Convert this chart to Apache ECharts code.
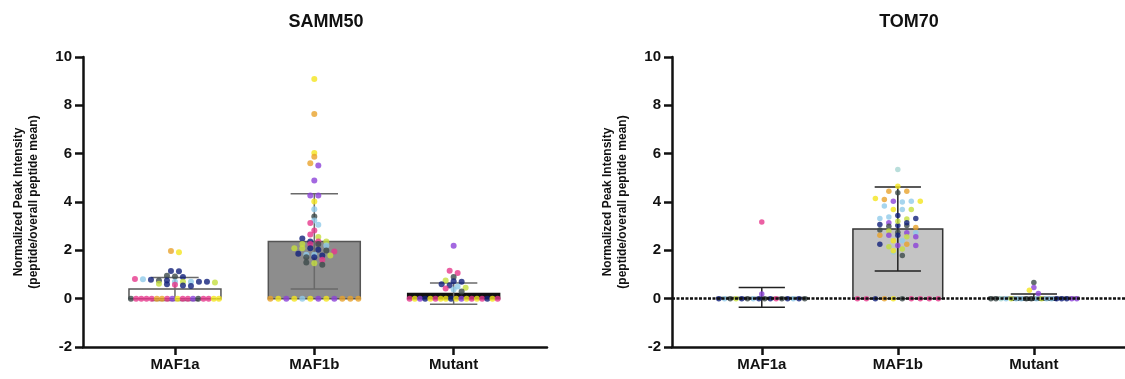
<!DOCTYPE html>
<html>
<head>
<meta charset="utf-8">
<script src="https://cdn.jsdelivr.net/npm/echarts@6/dist/echarts.min.js"></script>
<style>
html, body { margin: 0; padding: 0; background: #fff; }
#chart { width: 1125px; height: 379px; }
</style>
</head>
<body>
<div id="chart"></div>
<script>
// categories / titles
const categories = ['MAF1a', 'MAF1b', 'Mutant'];
const panelTitles = ['SAMM50', 'TOM70'];
const yLabelText = 'Normalized Peak Intensity\n(peptide/overall peptide mean)';

// bar heights (mean) and error (SD)
const samm50Mean = [0.40, 2.37, 0.21];
const samm50SD = [0.48, 1.97, 0.44];
const tom70Mean = [0.05, 2.88, 0.06];
const tom70SD = [0.41, 1.74, 0.13];

// individual peptide values, with the peptide colour key of each dot
const samm50MAF1a = [1.97, 1.92, 1.15, 1.13, 0.95, 0.92, 0.90, 0.81, 0.80, 0.78, 0.75, 0.75, 0.70, 0.70, 0.70, 0.70, 0.70, 0.67, 0.62, 0.60, 0.58, 0.55, 0.52,
    0, 0, 0, 0, 0, 0, 0, 0, 0, 0, 0, 0, 0, 0, 0, 0, 0, 0];
const samm50MAF1aKey = ['O','Y','N','N','G','G','N','P','L','N','G','N','L','Z','L','N','N','Z','Z','N','P','N','N',
    'G','P','P','P','P','O','O','P','U','Y','P','P','U','G','P','P','Y','Y'];
const samm50MAF1b = [9.09, 7.64, 6.03, 5.87, 5.60, 5.51, 4.89, 4.27, 4.27, 4.02, 3.70, 3.40, 3.23, 3.13, 3.06, 2.82, 2.66, 2.55, 2.49, 2.37, 2.37, 2.37,
    2.26, 2.26, 2.26, 2.20, 2.09, 2.09, 2.09, 2.02, 1.99, 1.95, 1.86, 1.82, 1.82, 1.79, 1.79, 1.71, 1.71, 1.61, 1.50, 1.47, 1.40,
    0, 0, 0, 0, 0, 0, 0, 0, 0, 0, 0, 0];
const samm50MAF1bKey = ['Y','O','Y','O','O','U','U','U','U','Y','L','G','L','P','L','P','P','Z','N','N','P','Z',
    'Z','P','G','L','Z','Z','N','N','G','P','N','L','L','N','Z','G','N','P','G','Z','G',
    'O','Y','U','Y','L','Y','U','Y','U','O','O','O'];
const samm50Mutant = [2.19, 1.16, 1.06, 0.90, 0.75, 0.72, 0.70, 0.60, 0.54, 0.50, 0.45, 0.42, 0.38, 0.30,
    0, 0, 0, 0, 0, 0, 0, 0, 0, 0, 0, 0, 0, 0, 0, 0, 0, 0];
const samm50MutantKey = ['U','P','P','G','Z','N','N','N','N','L','Z','P','L','G',
    'P','Y','U','N','Y','P','Y','Y','N','Y','U','Y','P','Y','P','N','Y','P'];

const tom70MAF1a = [3.17, 0.19, 0, 0, 0, 0, 0, 0, 0, 0, 0, 0, 0, 0, 0, 0, 0, 0];
const tom70MAF1aKey = ['P','U','N','L','G','Z','N','G','L','N','G','N','P','G','N','L','N','G'];
const tom70MAF1b = [5.34, 4.65, 4.45, 4.38, 4.45, 4.14, 4.10, 4.03, 4.00, 4.03, 4.03, 3.83, 3.69, 3.69, 3.69,
    3.32, 3.38, 3.44, 3.30, 3.32, 3.14, 3.07, 3.00, 3.03, 3.20, 3.03, 2.94, 3.14,
    2.84, 2.80, 2.75, 2.73, 2.73, 2.62, 2.62, 2.62, 2.56, 2.56, 2.40, 2.40,
    2.25, 2.15, 2.20, 2.25, 2.20, 1.93, 1.98, 2.06, 1.79,
    0, 0, 0, 0, 0, 0, 0, 0, 0, 0];
const tom70MAF1bKey = ['T','Y','O','G','O','Y','O','U','L','L','Y','L','Y','L','Z',
    'L','L','N','Z','N','U','N','G','N','Z','G','O','N',
    'G','Z','G','U','L','O','U','N','Z','U','Y','L',
    'N','Z','U','O','U','L','Y','Z','G',
    'P','P','N','O','Y','G','P','P','P','P'];
const tom70Mutant = [0.67, 0.46, 0.35, 0.21, 0, 0, 0, 0, 0, 0, 0, 0, 0, 0, 0, 0, 0, 0, 0, 0, 0, 0];
const tom70MutantKey = ['G','U','Y','U','G','G','T','L','Z','L','L','G','G','L','Z','L','L','N','N','N','U','U'];

const peptideColors = {
    P: '#e6388c', Y: '#f4e51e', O: '#e8a22c', U: '#8c42d8', N: '#12207a',
    G: '#3c4a4a', L: '#90cbea', Z: '#c4de3e', T: '#a8d6d2'
};

// spread dots sideways like a scatter dot plot (rows of nearby values)
function spreadOffsets(values, stepPx, spanPx, pxPerUnit) {
    const order = values.map((v, i) => i).sort((a, b) => values[a] - values[b]);
    const offs = new Array(values.length).fill(0);
    let bin = [];
    const flush = () => {
        const n = bin.length;
        const step = n > 1 ? Math.min(stepPx, spanPx / (n - 1)) : 0;
        bin.sort((a, b) => a - b).forEach((idx, j) => {
            offs[idx] = (j - (n - 1) / 2) * step / pxPerUnit;
        });
        bin = [];
    };
    order.forEach(i => {
        if (bin.length && values[i] - values[bin[0]] > 0.15) flush();
        bin.push(i);
    });
    flush();
    return offs;
}

const xMin = -0.66, xMax = 2.67;
const pxPerCat = 464 / (xMax - xMin);

function dots(groups, keys, stepPx, spanPx) {
    let out = [];
    groups.forEach((vals, c) => {
        const offs = spreadOffsets(vals, stepPx, spanPx, pxPerCat);
        vals.forEach((v, i) => {
            out.push({ value: [c + offs[i], v], itemStyle: { color: peptideColors[keys[c][i]] } });
        });
    });
    return out;
}

const barStyles = [
    [{ fill: '#ffffff', stroke: '#555' }, { fill: '#8d8d8d', stroke: '#555' }, { fill: '#111111', stroke: '#111' }],
    [{ fill: '#ffffff', stroke: '#333' }, { fill: '#c4c4c4', stroke: '#333' }, { fill: '#dddddd', stroke: '#555' }]
];
const errColors = ['#6a6a6a', '#222'];

function barSeries(p, means) {
    return {
        type: 'custom', xAxisIndex: p, yAxisIndex: p, z: 1, silent: true,
        data: means.map((m, i) => [i, m]),
        renderItem(params, api) {
            const i = api.value(0), m = api.value(1);
            const a = api.coord([i - 0.33, 0]);
            const b = api.coord([i + 0.33, m]);
            const st = barStyles[p][i];
            return {
                type: 'rect',
                shape: { x: a[0], y: Math.min(a[1], b[1]), width: b[0] - a[0], height: Math.abs(a[1] - b[1]) },
                style: { fill: st.fill, stroke: st.stroke, lineWidth: 1.5 }
            };
        }
    };
}

function errSeries(p, means, sds) {
    return {
        type: 'custom', xAxisIndex: p, yAxisIndex: p, z: 2, silent: true,
        data: means.map((m, i) => [i, m - sds[i], m + sds[i]]),
        renderItem(params, api) {
            const i = api.value(0);
            const lo = api.coord([i, api.value(1)]);
            const hi = api.coord([i, api.value(2)]);
            const l = api.coord([i - 0.17, 0])[0], r = api.coord([i + 0.17, 0])[0];
            const style = { stroke: errColors[p], lineWidth: 1.5 };
            return {
                type: 'group',
                children: [
                    { type: 'line', shape: { x1: lo[0], y1: lo[1], x2: hi[0], y2: hi[1] }, style },
                    { type: 'line', shape: { x1: l, y1: hi[1], x2: r, y2: hi[1] }, style },
                    { type: 'line', shape: { x1: l, y1: lo[1], x2: r, y2: lo[1] }, style }
                ]
            };
        }
    };
}

const font = 'Liberation Sans';
const grids = [
    { left: 83, top: 57, width: 464, height: 290 },
    { left: 672, top: 57, width: 464, height: 290 }
];

const chart = echarts.init(document.getElementById('chart'));
chart.setOption({
    animation: false,
    title: panelTitles.map((t, p) => ({
        text: t, left: p === 0 ? 321 : 904, top: 8, textAlign: 'center',
        textStyle: { fontFamily: font, fontSize: 18, fontWeight: 'bold', color: '#111' }
    })),
    grid: grids,
    xAxis: grids.map((g, p) => ({
        type: 'value', gridIndex: p, min: xMin, max: xMax,
        splitLine: { show: false },
        axisLine: { onZero: false, lineStyle: { color: '#111', width: 2.5 } },
        axisTick: { customValues: [0, 1, 2], length: 8, lineStyle: { color: '#111', width: 2.5 } },
        axisLabel: {
            customValues: [0, 1, 2], margin: 10,
            formatter: v => categories[Math.round(v)],
            fontFamily: font, fontSize: 15, fontWeight: 'bold', color: '#111'
        }
    })),
    yAxis: grids.map((g, p) => ({
        type: 'value', gridIndex: p, min: -2, max: 10, interval: 2,
        name: yLabelText, nameLocation: 'middle', nameGap: 42,
        nameTextStyle: { fontFamily: font, fontSize: 12, fontWeight: 'bold', color: '#111', lineHeight: 15 },
        splitLine: { show: false },
        axisLine: { show: true, onZero: false, lineStyle: { color: '#111', width: 2.5 } },
        axisTick: { show: true, length: 8, lineStyle: { color: '#111', width: 2.5 } },
        axisLabel: { margin: 11, fontFamily: font, fontSize: 15, fontWeight: 'bold', color: '#111' }
    })),
    series: [
        barSeries(0, samm50Mean),
        errSeries(0, samm50Mean, samm50SD),
        {
            type: 'scatter', xAxisIndex: 0, yAxisIndex: 0, z: 3, symbolSize: 6, silent: true,
            data: dots([samm50MAF1a, samm50MAF1b, samm50Mutant], [samm50MAF1aKey, samm50MAF1bKey, samm50MutantKey], 8, 88)
        },
        barSeries(1, tom70Mean),
        errSeries(1, tom70Mean, tom70SD),
        {
            type: 'scatter', xAxisIndex: 1, yAxisIndex: 1, z: 3, symbolSize: 5.5, silent: true,
            data: dots([tom70MAF1a, tom70MAF1b, tom70Mutant], [tom70MAF1aKey, tom70MAF1bKey, tom70MutantKey], 9.2, 88),
            markLine: {
                silent: true, symbol: 'none', label: { show: false },
                lineStyle: { color: '#111', width: 2.5, type: [3, 1.5] },
                data: [{ yAxis: 0 }]
            }
        }
    ]
});
</script>
</body>
</html>
